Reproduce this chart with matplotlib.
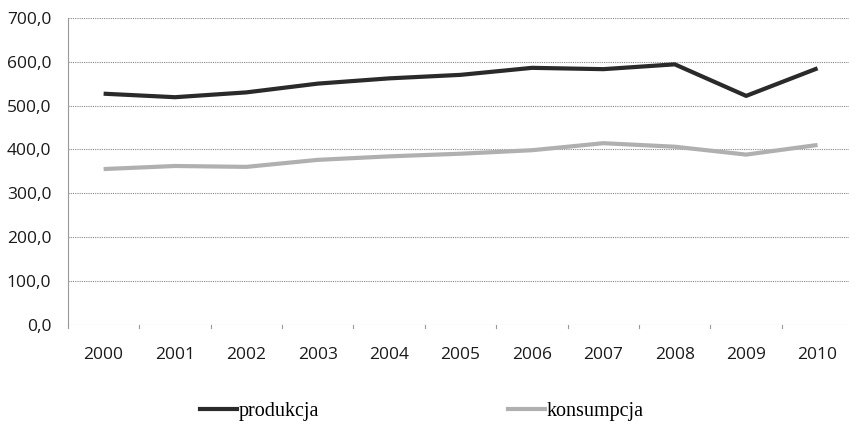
import matplotlib
matplotlib.use("Agg")
import matplotlib.pyplot as plt
from matplotlib.lines import Line2D

years = ["2000", "2001", "2002", "2003", "2004", "2005", "2006", "2007", "2008", "2009", "2010"]
produkcja = [527, 519, 530, 550, 562, 570, 586, 583, 594, 522, 585]
konsumpcja = [355, 362, 360, 376, 384, 390, 398, 414, 406, 388, 410]
y_ticks = [0, 100, 200, 300, 400, 500, 600, 700]

fig = plt.figure(figsize=(8.49, 4.26), dpi=100)
ax = fig.add_axes([0.080, 0.238, 0.925, 0.72])

x = range(len(years))
ax.plot(x, produkcja, color="#2a2a2a", lw=3.0, solid_capstyle="butt", zorder=3)
ax.plot(x, konsumpcja, color="#b0b0b0", lw=3.0, solid_capstyle="butt", zorder=3)

ax.set_xlim(-0.5, len(years) - 0.5)
ax.set_ylim(0, 700)
ax.set_yticks(y_ticks)
ax.set_yticklabels([f"{v:.1f}".replace(".", ",") for v in y_ticks],
                   fontfamily="Open Sans", fontsize=12.5, color="#1a1a1a")
ax.set_xticks(list(x))
ax.set_xticklabels(years, fontfamily="Open Sans", fontsize=12.5, color="#1a1a1a")
ax.tick_params(axis="y", length=0, pad=12)
ax.tick_params(axis="x", length=0, pad=16)

# small category boundary ticks under the zero line
for b in range(len(years) + 1):
    ax.plot([b - 0.5, b - 0.5], [0, -8], color="#999999", lw=0.8, clip_on=False)

for v in y_ticks:
    ax.axhline(v, color="#888888", lw=0.8, ls=(0, (1, 1)), zorder=1)

for s in ["top", "right", "bottom"]:
    ax.spines[s].set_visible(False)
ax.spines["left"].set_color("#999999")
ax.spines["left"].set_linewidth(0.8)

handles = [Line2D([], [], color="#2a2a2a", lw=3.0),
           Line2D([], [], color="#b0b0b0", lw=3.0)]
fig.legend(handles, ["produkcja", "konsumpcja"], loc="center",
           bbox_to_anchor=(0.497, 0.035), ncol=2, frameon=False,
           prop={"family": "Liberation Serif", "size": 14.5},
           handlelength=1.8, handletextpad=0.1, columnspacing=9.4)

fig.savefig("out.png", dpi=100, facecolor="white")
